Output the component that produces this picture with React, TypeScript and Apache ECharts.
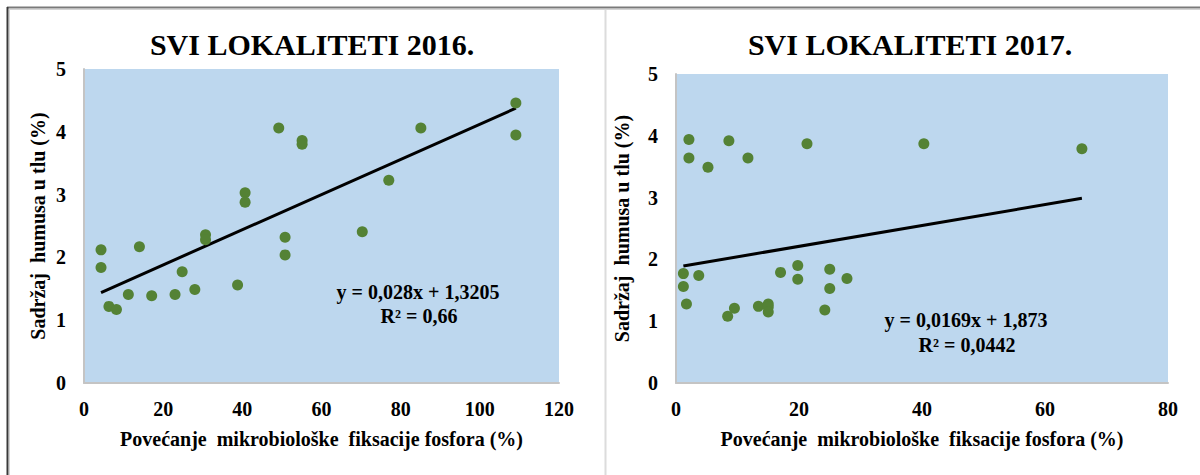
import React, { useEffect, useRef } from "react";
import * as echarts from "echarts";

const FONT = "'Liberation Serif', serif";

const titles = ["SVI LOKALITETI 2016.", "SVI LOKALITETI 2017."];
const yAxisName = "Sadržaj  humusa u tlu (%)";
const xAxisName = "Povećanje  mikrobiološke  fiksacije fosfora (%)";

const x2016 = [109.1, 109.1, 85.1, 49.2, 55.1, 55.1, 77.0, 40.7, 40.7, 70.3, 4.3, 4.3, 14.0, 30.7, 30.7, 50.8, 50.8, 24.8, 38.8, 28.0, 23.0, 17.1, 11.2, 6.3, 8.2];
const y2016 = [4.46, 3.95, 4.06, 4.06, 3.86, 3.8, 3.23, 3.03, 2.88, 2.41, 2.12, 1.84, 2.17, 2.36, 2.28, 2.32, 2.04, 1.77, 1.56, 1.49, 1.41, 1.39, 1.41, 1.22, 1.17];

const x2017 = [2.1, 2.1, 5.2, 8.6, 11.7, 21.3, 40.3, 66.0, 1.2, 1.2, 1.7, 3.7, 8.4, 9.5, 13.4, 15.0, 15.0, 15.0, 17.0, 19.8, 19.8, 24.2, 25.0, 25.0, 27.8];
const y2017 = [3.94, 3.64, 3.49, 3.92, 3.64, 3.87, 3.87, 3.79, 1.77, 1.56, 1.28, 1.74, 1.08, 1.21, 1.24, 1.28, 1.23, 1.15, 1.79, 1.9, 1.68, 1.18, 1.84, 1.53, 1.69];

const trend2016 = { slope: 0.028, intercept: 1.3205, r2: "0,66", eq: "y = 0,028x + 1,3205" };
const trend2017 = { slope: 0.0169, intercept: 1.873, r2: "0,0442", eq: "y = 0,0169x + 1,873" };

const xMax = [120, 80];
const yTicks = [0, 1, 2, 3, 4, 5];

const pts = (xs: number[], ys: number[]) => xs.map((x, i) => [x, ys[i]]);
const trendPts = (xs: number[], t: { slope: number; intercept: number }) => {
  const lo = Math.min(...xs);
  const hi = Math.max(...xs);
  return [
    [lo, t.slope * lo + t.intercept],
    [hi, t.slope * hi + t.intercept],
  ];
};

const labelStyle = { color: "#000", fontFamily: FONT, fontWeight: "bold" as const, fontSize: 20 };

function makeX(idx: number, max: number) {
  return {
    type: "value",
    gridIndex: idx,
    min: 0,
    max,
    interval: 20,
    name: xAxisName,
    nameLocation: "middle",
    nameGap: 46,
    nameTextStyle: { ...labelStyle, fontSize: 20 },
    axisLine: { show: true, lineStyle: { color: "#c4c4c4", width: 2 } },
    axisTick: { show: false },
    splitLine: { show: false },
    axisLabel: { ...labelStyle, margin: 16 },
  };
}

function makeY(idx: number, gap: number) {
  return {
    type: "value",
    gridIndex: idx,
    min: yTicks[0],
    max: yTicks[yTicks.length - 1],
    interval: 1,
    name: yAxisName,
    nameLocation: "middle",
    nameGap: gap,
    nameTextStyle: { ...labelStyle, fontSize: 20 },
    axisLine: { show: true, lineStyle: { color: "#c4c4c4", width: 2 } },
    axisTick: { show: false },
    splitLine: { show: false },
    axisLabel: { ...labelStyle, margin: 18 },
  };
}

const eqText = (x: number, y: number, text: string) => ({
  type: "text",
  x,
  y,
  style: {
    text,
    fill: "#000",
    fontFamily: FONT,
    fontWeight: "bold",
    fontSize: 20,
    textAlign: "center",
    textVerticalAlign: "middle",
  },
});

export default function App() {
  const ref = useRef<HTMLDivElement>(null);
  useEffect(() => {
    const chart = echarts.init(ref.current!, null, { renderer: "svg" });
    chart.setOption({
      animation: false,
      backgroundColor: "#fff",
      title: [
        { text: titles[0], left: 307, top: 24, textAlign: "center", textStyle: { fontFamily: FONT, fontWeight: "bold", fontSize: 30, color: "#000" } },
        { text: titles[1], left: 905, top: 24, textAlign: "center", textStyle: { fontFamily: FONT, fontWeight: "bold", fontSize: 30, color: "#000" } },
      ],
      grid: [
        { left: 84, top: 69, width: 475, height: 314, backgroundColor: "#bdd7ee", show: true, borderWidth: 0 },
        { left: 676, top: 74, width: 492, height: 309, backgroundColor: "#bdd7ee", show: true, borderWidth: 0 },
      ],
      xAxis: [makeX(0, xMax[0]), makeX(1, xMax[1])],
      yAxis: [makeY(0, 36), makeY(1, 44)],
      series: [
        {
          type: "line",
          xAxisIndex: 0,
          yAxisIndex: 0,
          data: trendPts(x2016, trend2016),
          symbol: "none",
          lineStyle: { color: "#000", width: 3 },
          z: 2,
        },
        {
          type: "scatter",
          xAxisIndex: 0,
          yAxisIndex: 0,
          data: pts(x2016, y2016),
          symbolSize: 11,
          itemStyle: { color: "#548235", opacity: 1 },
          z: 3,
        },
        {
          type: "line",
          xAxisIndex: 1,
          yAxisIndex: 1,
          data: trendPts(x2017, trend2017),
          symbol: "none",
          lineStyle: { color: "#000", width: 3 },
          z: 2,
        },
        {
          type: "scatter",
          xAxisIndex: 1,
          yAxisIndex: 1,
          data: pts(x2017, y2017),
          symbolSize: 11,
          itemStyle: { color: "#548235", opacity: 1 },
          z: 3,
        },
      ],
      graphic: [
        eqText(418, 292, trend2016.eq),
        eqText(419, 316, "R² = " + trend2016.r2),
        eqText(966, 320, trend2017.eq),
        eqText(967, 345, "R² = " + trend2017.r2),
        { type: "line", shape: { x1: 7, y1: 7.5, x2: 1200, y2: 7.5 }, style: { stroke: "#7a7a7a", lineWidth: 2 } },
        { type: "line", shape: { x1: 9, y1: 9.5, x2: 1200, y2: 9.5 }, style: { stroke: "#d4d4d4", lineWidth: 1 } },
        { type: "line", shape: { x1: 7.5, y1: 7, x2: 7.5, y2: 475 }, style: { stroke: "#3a3a3a", lineWidth: 2 } },
        { type: "line", shape: { x1: 9.5, y1: 9, x2: 9.5, y2: 475 }, style: { stroke: "#d4d4d4", lineWidth: 1 } },
        { type: "line", shape: { x1: 605.5, y1: 10, x2: 605.5, y2: 475 }, style: { stroke: "#dcdcdc", lineWidth: 2 } },
      ],
    });
    return () => chart.dispose();
  }, []);
  return (
    <div
      ref={ref}
      style={{ position: "fixed", left: 0, top: 0, width: 1200, height: 475, background: "#fff" }}
    />
  );
}
